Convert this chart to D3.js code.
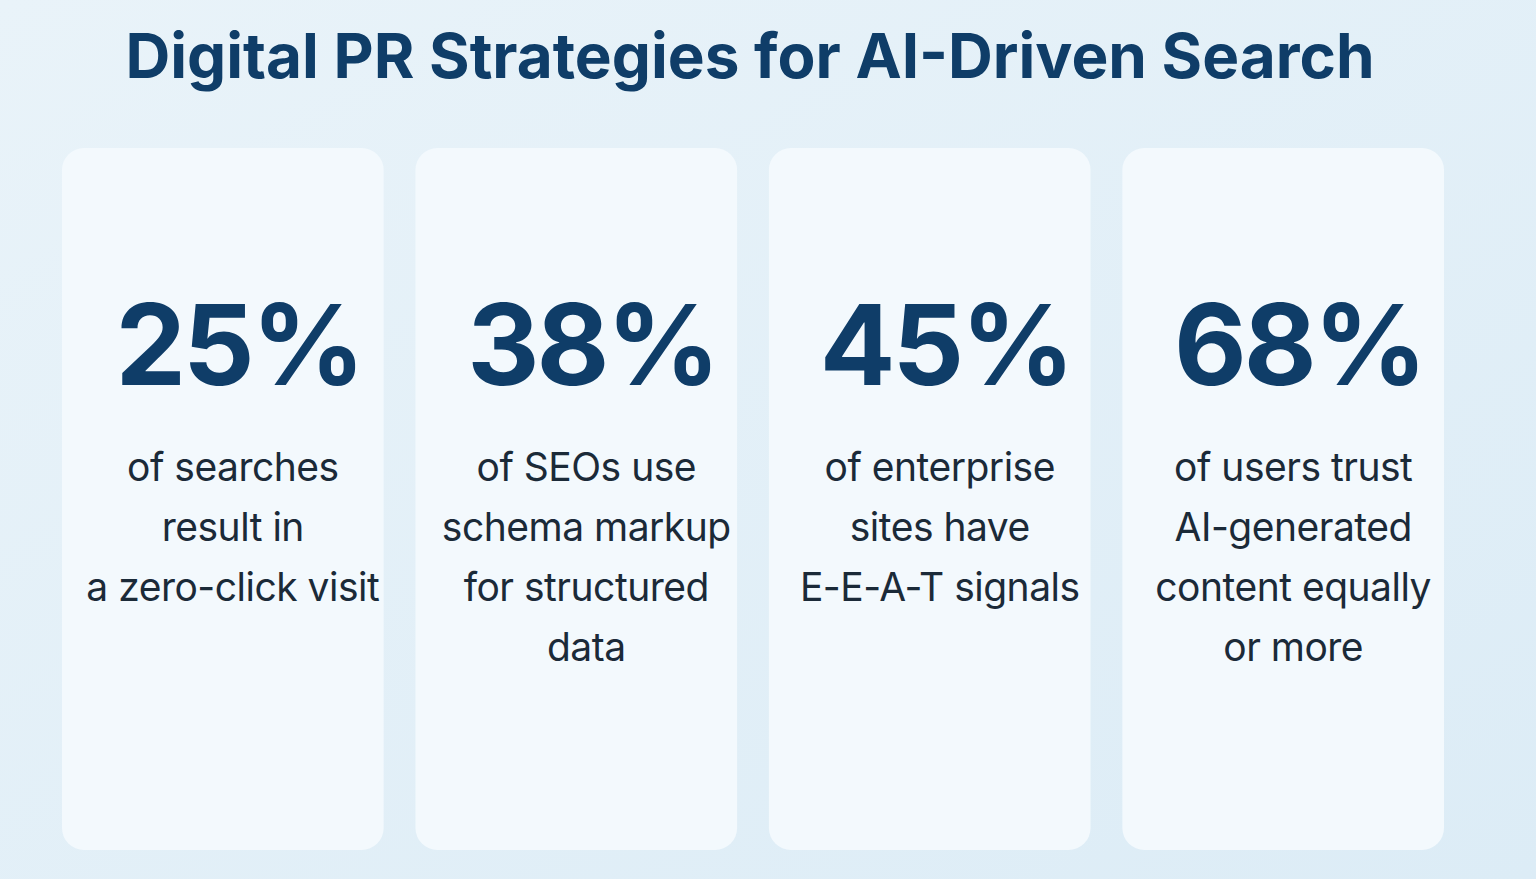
<!DOCTYPE html>
<html><head><meta charset="utf-8">
<script src="https://cdn.jsdelivr.net/npm/d3@7"></script>
<style>html,body{margin:0;padding:0;overflow:hidden}</style>
</head><body><svg id="c" width="1536" height="879"></svg>
<script>
const title = "Digital PR Strategies for AI-Driven Search";
const categories = ["zero-click","schema","eeat","trust"];
const values = [25, 38, 45, 68];
const descriptions = [
  ["of searches","result in","a zero-click visit"],
  ["of SEOs use","schema markup","for structured","data"],
  ["of enterprise","sites have","E-E-A-T signals"],
  ["of users trust","AI-generated","content equally","or more"]
];
const svg = d3.select("#c");
const defs = svg.append("defs");
const g = defs.append("linearGradient").attr("id","bg").attr("x1",0).attr("y1",0).attr("x2",1).attr("y2",1);
g.append("stop").attr("offset",0).attr("stop-color","#e9f3f9");
g.append("stop").attr("offset",1).attr("stop-color","#dcecf6");
svg.append("rect").attr("width",1536).attr("height",879).attr("fill","url(#bg)");
svg.append("text").attr("x",750).attr("y",78).attr("text-anchor","middle")
  .attr("font-family","Inter, 'Open Sans', sans-serif").attr("font-weight",700)
  .attr("font-size",62).attr("fill","#0f3d68").attr("letter-spacing",0).text(title);
const x = d3.scaleBand().domain(categories).range([62,1444]).paddingInner(0.09).paddingOuter(0);
const cards = svg.selectAll("g.card").data(categories).join("g").attr("class","card")
  .attr("transform",d=>`translate(${x(d)},0)`);
cards.append("rect").attr("y",148).attr("width",x.bandwidth()).attr("height",702)
  .attr("rx",22).attr("fill","#f3f9fd");
cards.append("text").attr("x",x.bandwidth()/2+16).attr("y",385).attr("text-anchor","middle")
  .attr("font-family","Inter, sans-serif").attr("font-weight",700).attr("font-size",112)
  .attr("letter-spacing",-3).attr("fill","#0f3d68").text((d,i)=>values[i]+"%");
cards.each(function(d,i){
  d3.select(this).selectAll("text.l").data(descriptions[i]).join("text").attr("class","l")
    .attr("x",x.bandwidth()/2+10).attr("y",(t,j)=>481+j*60).attr("text-anchor","middle")
    .attr("font-family","Inter, sans-serif").attr("font-size",39).attr("letter-spacing",-0.5)
    .attr("fill","#1b2a38").text(t=>t);
});
</script></body></html>
